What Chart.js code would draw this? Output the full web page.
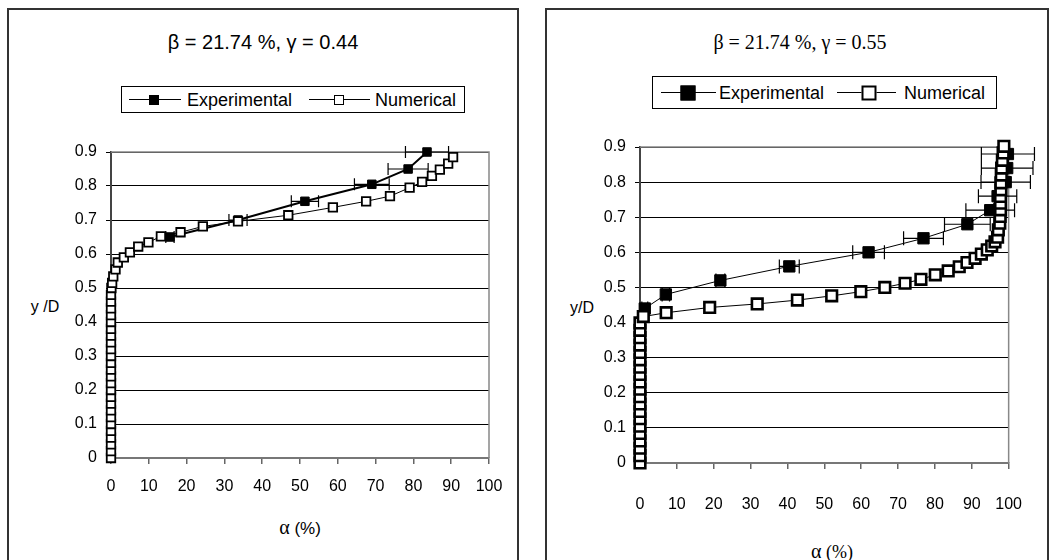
<!DOCTYPE html>
<html>
<head>
<meta charset="utf-8">
<script src="https://cdn.jsdelivr.net/npm/chart.js@4/dist/chart.umd.min.js"></script>
<style>
body { margin: 0; width: 1055px; height: 560px; overflow: hidden; background: #fff; position: relative;
       font-family: "Liberation Sans", Arial, sans-serif; color: #000; }
.box { position: absolute; top: 8px; height: 600px; border: 2px solid #333; box-sizing: border-box; }
canvas { position: absolute; top: 0; }
.txt { position: absolute; white-space: nowrap; line-height: 1; transform: translate(-50%, -50%); }
.serif { font-family: "Liberation Serif", "Times New Roman", serif; }
.legend { position: absolute; border: 1px solid #000; box-sizing: border-box; background: #fff; }
.legend span { position: absolute; top: 50%; transform: translateY(-50%); white-space: nowrap; line-height: 1; }
.legend .ln { height: 0; border-top: 1.5px solid #000; transform: none; }
.legend .sq { box-sizing: border-box; border: 1.5px solid #000; transform: translate(-50%, -50%); }
</style>
</head>
<body>

<div class="box" style="left:7px; width:512px;"></div>
<div class="box" style="left:545px; width:504px;"></div>

<div class="txt" style="left:263px; top:42px; font-size:20px;">β = 21.74 %, γ = 0.44</div>
<div class="legend" style="left:121px; top:86px; width:344px; height:27px; font-size:18px;">
  <span class="ln" style="left:7px; width:52px; top:12px;"></span>
  <span class="sq" style="left:32px; width:10px; height:10px; background:#000;"></span>
  <span style="left:65px;">Experimental</span>
  <span class="ln" style="left:187px; width:61px; top:12px;"></span>
  <span class="sq" style="left:217px; width:10px; height:10px; background:#fff;"></span>
  <span style="left:253px;">Numerical</span>
</div>
<div class="txt" style="left:45px; top:307px; font-size:16px;">y /D</div>
<div class="txt" style="left:300px; top:527px; font-size:17px;"><span class="serif" style="font-size:20px;">α</span> (%)</div>

<div class="txt serif" style="left:800px; top:42px; font-size:20px;">β = 21.74 %, γ = 0.55</div>
<div class="legend" style="left:652px; top:76px; width:345px; height:33px; font-size:18px;">
  <span class="ln" style="left:8px; width:55px; top:15px;"></span>
  <span class="sq" style="left:35px; width:15px; height:15px; background:#000;"></span>
  <span style="left:66px;">Experimental</span>
  <span class="ln" style="left:184px; width:59px; top:15px;"></span>
  <span class="sq" style="left:216px; width:15px; height:15px; background:#fff; border-width:2.5px;"></span>
  <span style="left:251px;">Numerical</span>
</div>
<div class="txt" style="left:582px; top:308px; font-size:16px;">y/D</div>
<div class="txt serif" style="left:832px; top:551px; font-size:18px;"><span style="font-size:20px;">α</span> (%)</div>

<canvas id="chart-1" width="511" height="560" style="left:7px;"></canvas>
<canvas id="chart-2" width="502" height="560" style="left:546px;"></canvas>

<script>
// gamma = 0.44
const expX1 = [15.6, 33.6, 51.3, 69, 78.6, 83.6];
const expY1 = [0.65, 0.70, 0.755, 0.805, 0.85, 0.90];
const expErr1 = [1.1, 2.4, 3.6, 4.6, 5.3, 5.7];
const numX1 = [0, 0, 0, 0, 0, 0, 0, 0, 0, 0, 0, 0, 0, 0, 0, 0, 0, 0, 0, 0, 0, 0, 0, 0, 0,
    0.1, 0.3, 0.6, 1.2, 1.8, 3.4, 5, 7.2, 9.9, 13.2, 18.4, 24.3, 33.6, 46.9, 58.7, 67.5,
    73.8, 79, 82.3, 84.9, 87, 89.2, 90.5];
const numY1 = [0, 0.02, 0.04, 0.06, 0.08, 0.10, 0.12, 0.14, 0.16, 0.18, 0.20, 0.22, 0.24,
    0.26, 0.28, 0.30, 0.32, 0.34, 0.36, 0.38, 0.40, 0.42, 0.44, 0.46, 0.48,
    0.50, 0.515, 0.534, 0.555, 0.575, 0.59, 0.605, 0.622, 0.634, 0.652, 0.664, 0.681,
    0.696, 0.714, 0.737, 0.755, 0.77, 0.795, 0.812, 0.83, 0.848, 0.866, 0.885];

// gamma = 0.55
const expX2 = [1.3, 7, 21.8, 40.5, 62, 76.9, 88.8, 95, 97, 99.2, 99.6, 99.8];
const expY2 = [0.44, 0.48, 0.52, 0.56, 0.60, 0.64, 0.68, 0.72, 0.76, 0.80, 0.84, 0.88];
const expErr2 = [0.8, 1, 1.2, 2.7, 4.3, 5.4, 6.2, 6.6, 5.2, 6.7, 7, 7.2];
const numX2 = [0, 0, 0, 0, 0, 0, 0, 0, 0, 0, 0, 0, 0, 0, 0, 0, 0, 0, 0, 0,
    0.9, 7.1, 18.9, 31.8, 42.7, 52, 59.9, 66.4, 71.9, 76.2, 80.1, 83.6, 86.6, 88.7,
    90.9, 92.6, 94.2, 95.4, 96.3, 97, 97.2, 97.6, 97.7, 97.8, 97.8, 97.8, 97.9, 97.9,
    98, 98.1, 98.3, 98.5, 98.7];
const numY2 = [0, 0.021, 0.042, 0.063, 0.084, 0.105, 0.126, 0.147, 0.168, 0.189, 0.21,
    0.231, 0.252, 0.273, 0.294, 0.315, 0.336, 0.357, 0.378, 0.399,
    0.417, 0.428, 0.443, 0.453, 0.464, 0.476, 0.488, 0.5, 0.512, 0.523, 0.536, 0.547,
    0.559, 0.571, 0.583, 0.595, 0.607, 0.618, 0.63, 0.643, 0.664, 0.683, 0.702, 0.721,
    0.74, 0.759, 0.778, 0.798, 0.82, 0.84, 0.862, 0.883, 0.902];

const xTicks = [0, 10, 20, 30, 40, 50, 60, 70, 80, 90, 100];
const yTicks = [0, 0.1, 0.2, 0.3, 0.4, 0.5, 0.6, 0.7, 0.8, 0.9];

const pts = (xs, ys) => xs.map((x, i) => ({ x: x, y: ys[i] }));

// horizontal error bars on the experimental series (dataset 0)
const errorBars = {
    id: 'errorBars',
    afterDatasetDraw(chart, args, opts) {
        if (args.index !== 0) return;
        const ctx = chart.ctx;
        const xs = chart.scales.x, ys = chart.scales.y;
        ctx.save();
        ctx.strokeStyle = '#000';
        ctx.lineWidth = 1.2;
        opts.err.forEach((e, i) => {
            const p = args.meta.data[i];
            const y = ys.getPixelForValue(opts.ys[i]);
            const x0 = xs.getPixelForValue(opts.xs[i] - e);
            const x1 = xs.getPixelForValue(opts.xs[i] + e);
            ctx.beginPath();
            ctx.moveTo(x0, y); ctx.lineTo(x1, y);
            ctx.moveTo(x0, y - opts.cap); ctx.lineTo(x0, y + opts.cap);
            ctx.moveTo(x1, y - opts.cap); ctx.lineTo(x1, y + opts.cap);
            ctx.stroke();
        });
        ctx.restore();
    }
};

// gray plot-area frame on top and right
const plotFrame = {
    id: 'plotFrame',
    beforeDatasetsDraw(chart) {
        const { ctx, chartArea: a } = chart;
        ctx.save();
        ctx.strokeStyle = '#888';
        ctx.lineWidth = 1.5;
        ctx.beginPath();
        ctx.moveTo(a.left, a.top); ctx.lineTo(a.right, a.top); ctx.lineTo(a.right, a.bottom);
        ctx.stroke();
        ctx.restore();
    }
};

const makeOptions = (yWidth, pad, labelPad, err, exs, eys, cap) => ({
    responsive: false,
    devicePixelRatio: 1,
    animation: false,
    layout: { padding: pad },
    plugins: {
        legend: { display: false },
        tooltip: { enabled: false },
        errorBars: { err: err, xs: exs, ys: eys, cap: cap }
    },
    scales: {
        x: {
            type: 'linear', min: 0, max: 100,
            afterBuildTicks: s => { s.ticks = xTicks.map(v => ({ value: v })); },
            afterFit: s => { s.height = 90; },
            ticks: { padding: labelPad, color: '#000', font: { family: 'Liberation Sans', size: 16 } },
            grid: { drawOnChartArea: false, tickLength: 6, color: '#666', lineWidth: 1.5 },
            border: { color: '#777', width: 2 }
        },
        y: {
            type: 'linear', min: 0, max: 0.9,
            afterBuildTicks: s => { s.ticks = yTicks.map(v => ({ value: v })); },
            afterFit: s => { s.width = yWidth; },
            ticks: { padding: 9, color: '#000', font: { family: 'Liberation Sans', size: 16 },
                     callback: v => String(v) },
            grid: { color: '#000', lineWidth: 1, tickLength: 5 },
            border: { color: '#444', width: 2 }
        }
    }
});

const ctx1 = document.getElementById('chart-1');
const data1 = {
    type: 'scatter',
    data: {
        datasets: [{
            label: 'Experimental',
            data: pts(expX1, expY1),
            showLine: true, order: 1, clip: false,
            borderColor: '#000', borderWidth: 2,
            pointStyle: 'rect', pointRadius: 6, backgroundColor: '#000', pointBorderWidth: 1
        }, {
            label: 'Numerical',
            data: pts(numX1, numY1),
            showLine: true, order: 0, clip: false,
            borderColor: '#000', borderWidth: 1,
            pointStyle: 'rect', pointRadius: 6, pointBackgroundColor: '#fff', pointBorderWidth: 1.8
        }]
    },
    options: makeOptions(104, { left: 0, right: 29, top: 152, bottom: 12 }, 13, expErr1, expX1, expY1, 6),
    plugins: [errorBars, plotFrame]
};
const chart1 = new Chart(ctx1, data1);

const ctx2 = document.getElementById('chart-2');
const data2 = {
    type: 'scatter',
    data: {
        datasets: [{
            label: 'Experimental',
            data: pts(expX2, expY2),
            showLine: true, order: 1, clip: false,
            borderColor: '#000', borderWidth: 1,
            pointStyle: 'rect', pointRadius: 8, backgroundColor: '#000', pointBorderWidth: 1
        }, {
            label: 'Numerical',
            data: pts(numX2, numY2),
            showLine: true, order: 0, clip: false,
            borderColor: '#000', borderWidth: 1,
            pointStyle: 'rect', pointRadius: 7.5, pointBackgroundColor: '#fff', pointBorderWidth: 2.6
        }]
    },
    options: makeOptions(94, { left: 0, right: 23, top: 147, bottom: 7 }, 26, expErr2, expX2, expY2, 7),
    plugins: [errorBars, plotFrame]
};
const chart2 = new Chart(ctx2, data2);
</script>
</body>
</html>
